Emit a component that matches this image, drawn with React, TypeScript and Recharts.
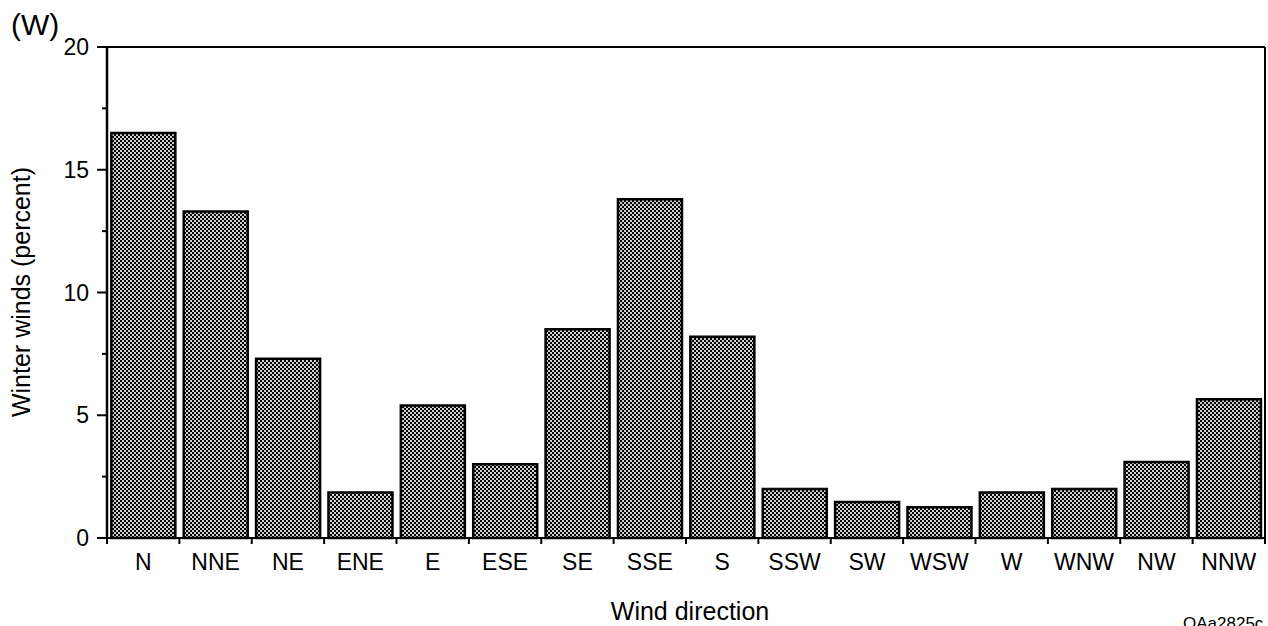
import { Bar, BarChart, ReferenceLine, XAxis, YAxis } from "recharts";

// Winter wind directions, 16-point compass
const directions = ["N", "NNE", "NE", "ENE", "E", "ESE", "SE", "SSE", "S", "SSW", "SW", "WSW", "W", "WNW", "NW", "NNW"];
const winterPercent = [16.5, 13.3, 7.3, 1.85, 5.4, 3.0, 8.5, 13.8, 8.2, 2.0, 1.47, 1.25, 1.85, 2.0, 3.1, 5.65];
const yTicks = [0, 2.5, 5, 7.5, 10, 12.5, 15, 17.5, 20];

const data = directions.map((d, i) => ({ dir: d, value: winterPercent[i] }));

const W = 1268;
const H = 626;
const LEFT = 107;
const RIGHT_AXIS = 3;
const X_AXIS_H = 88;
const TOP = 47;
const BAND = (W - LEFT - RIGHT_AXIS) / directions.length;
const FONT = '"Liberation Sans", Arial, Helvetica, sans-serif';

function XTick({ x, y, payload, index }: any) {
  const last = index === directions.length - 1;
  return (
    <g>
      <line x1={x - BAND / 2} x2={x - BAND / 2} y1={y} y2={y + 6} stroke="#000" strokeWidth={2} />
      {last && <line x1={x + BAND / 2} x2={x + BAND / 2} y1={y} y2={y + 6} stroke="#000" strokeWidth={2} />}
      <text x={x} y={y + 32} textAnchor="middle" fontSize={23} fontFamily={FONT} fill="#000">
        {payload.value}
      </text>
    </g>
  );
}

function YTick({ x, y, payload }: any) {
  const major = payload.value % 5 === 0;
  return (
    <g>
      <line x1={x - (major ? 10 : 5)} x2={x} y1={y} y2={y} stroke="#000" strokeWidth={2} />
      {major && (
        <text x={x - 18} y={y + 8} textAnchor="end" fontSize={23} fontFamily={FONT} fill="#000">
          {payload.value}
        </text>
      )}
    </g>
  );
}

export default function App() {
  return (
    <div style={{ position: "absolute", left: 0, top: 0, width: W, height: H, background: "#fff", fontFamily: FONT }}>
      <BarChart width={W} height={H} data={data} margin={{ top: TOP, right: 0, left: 0, bottom: 0 }} barCategoryGap="6%">
        <defs>
          <pattern id="checker" width="4" height="4" patternUnits="userSpaceOnUse">
            <rect width="4" height="4" fill="#cfcfcf" />
            <rect width="2" height="2" fill="#000" />
            <rect x="2" y="2" width="2" height="2" fill="#000" />
          </pattern>
        </defs>
        <XAxis
          dataKey="dir"
          height={X_AXIS_H}
          tickSize={0}
          tickMargin={0}
          tickLine={false}
          interval={0}
          axisLine={{ stroke: "#000", strokeWidth: 2 }}
          tick={<XTick />}
        />
        <YAxis
          yAxisId="left"
          width={LEFT}
          domain={[0, 20]}
          ticks={yTicks}
          interval={0}
          tickSize={0}
          tickMargin={0}
          tickLine={false}
          axisLine={{ stroke: "#000", strokeWidth: 2.5 }}
          tick={<YTick />}
        />
        <YAxis
          yAxisId="right"
          orientation="right"
          width={RIGHT_AXIS}
          domain={[0, 20]}
          tick={false}
          tickLine={false}
          axisLine={{ stroke: "#000", strokeWidth: 2 }}
        />
        <ReferenceLine yAxisId="left" y={20} stroke="#000" strokeWidth={2} />
        <Bar
          yAxisId="left"
          dataKey="value"
          fill="url(#checker)"
          stroke="#000"
          strokeWidth={2.5}
          isAnimationActive={false}
        />
      </BarChart>
      <svg width={W} height={H} style={{ position: "absolute", left: 0, top: 0, pointerEvents: "none" }}>
        <text x={11} y={35} fontSize={30} fontFamily={FONT} fill="#000">(W)</text>
        <text
          x={0}
          y={0}
          transform={`translate(30, 292) rotate(-90)`}
          textAnchor="middle"
          fontSize={25}
          fontFamily={FONT}
          fill="#000"
        >
          Winter winds (percent)
        </text>
        <text x={690} y={620} textAnchor="middle" fontSize={25} fontFamily={FONT} fill="#000">Wind direction</text>
        <text x={1183} y={629} fontSize={17} fontFamily={FONT} fill="#000">QAa2825c</text>
      </svg>
    </div>
  );
}
